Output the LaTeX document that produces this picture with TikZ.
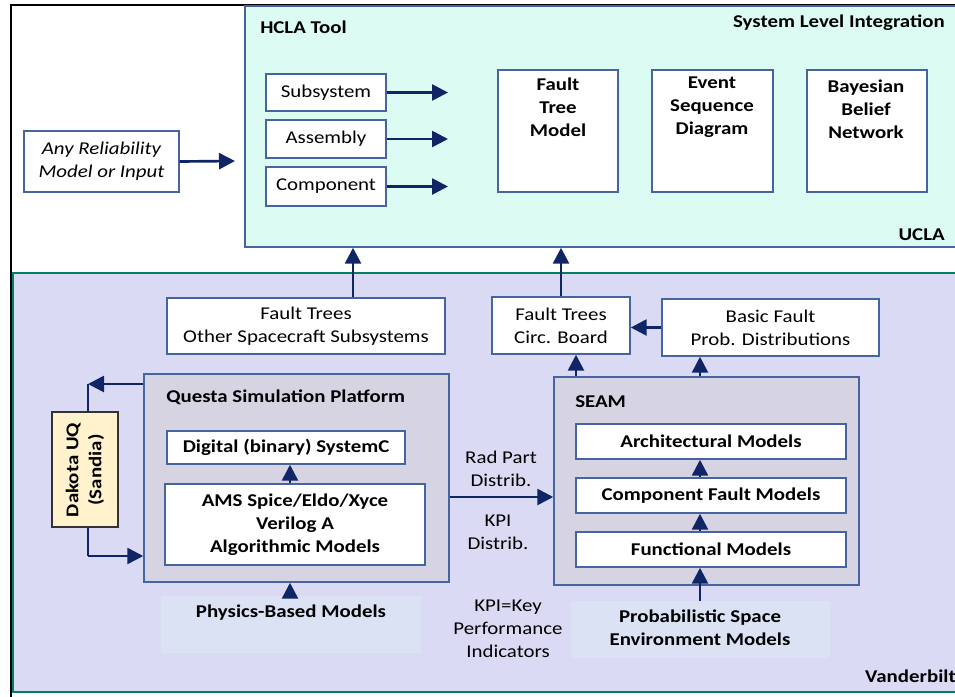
\documentclass[tikz,border=0pt]{standalone}
\usepackage{fontspec}
\setmainfont{Carlito}[FakeStretch=1.16]
\usetikzlibrary{arrows.meta}
\definecolor{navy}{RGB}{16,37,102}
\definecolor{bord}{RGB}{70,100,160}
\definecolor{mint}{RGB}{220,252,243}
\definecolor{lav}{RGB}{218,218,244}
\definecolor{grayb}{RGB}{214,212,226}
\definecolor{lblue}{RGB}{218,226,244}
\definecolor{dak}{RGB}{255,242,204}
\definecolor{grn}{RGB}{0,128,96}
\newcommand\pbox[7]{\node[#1,minimum width={(#5-#3)*0.75pt},minimum height={(#6-#4)*0.75pt}] (#2) at ({(#3+#5)/2},{(#4+#6)/2}) {#7};}
\tikzset{
  wbox/.style={draw=bord,fill=white,line width=1.1pt,inner sep=0pt,align=center},
  gbox/.style={draw=bord,fill=grayb,line width=1.1pt,inner sep=0pt},
  lbox/.style={fill=lblue,inner sep=0pt},
  dbox/.style={draw=black!80,fill=dak,line width=1.1pt,inner sep=0pt},
  arr/.style={draw=navy,line width=2pt,-{Triangle[length=12pt,width=12pt]}},
  ln/.style={draw=navy,line width=2pt},
  txt/.style={inner sep=0pt,align=center},
  bt/.style={inner sep=0pt,align=center,font=\fontsize{13.5}{17.2}\selectfont\bfseries},
}
\begin{document}
\begin{tikzpicture}[x=0.75pt,y=-0.75pt,font=\fontsize{13.5}{17.2}\selectfont]
\useasboundingbox (0,0) rectangle (955,696);
% outer frames
\draw[line width=2pt,fill=white] (11,5) rectangle (980,720);
\draw[draw=grn,fill=lav,line width=2pt] (13,273) rectangle (980,692);
\node[draw=bord,fill=mint,line width=1.1pt,inner sep=0pt,minimum width={735*0.75pt},minimum height={241*0.75pt}] (hcla) at ({(245+980)/2},{(6+247)/2}) {};
% titles
\node[bt,anchor=west] (thcla) at (260,27) {HCLA Tool};
\node[bt,anchor=east] (tsli) at (945,23) {System Level Integration};
\node[bt,anchor=east] (tucla) at (945,235) {UCLA};
\node[bt,anchor=east] (tvan) at (956,676) {Vanderbilt};
% HCLA content
\pbox{wbox}{sub}{266}{74}{386}{111}{Subsystem}
\pbox{wbox}{asm}{266}{120}{386}{158}{Assembly}
\pbox{wbox}{cmp}{266}{167}{386}{206}{Component}
\pbox{wbox}{anyrel}{24}{131}{179}{192}{\itshape Any Reliability\\\itshape Model or Input}
\pbox{wbox}{ftm}{498}{70}{618}{192}{}
\pbox{wbox}{esd}{652}{70}{773}{192}{}
\pbox{wbox}{bbn}{807}{70}{927}{192}{}
\node[bt] (tftm) at (558,107) {Fault\\Tree\\Model};
\node[bt] (tesd) at (712,107) {Event\\Sequence\\Diagram};
\node[bt] (tbbn) at (866,109) {Bayesian\\Belief\\Network};
\coordinate (ex) at (448,0);
\coordinate (e4) at (235,161);
\draw[arr] (sub.east) -- (sub.east -| ex);
\draw[arr] (asm.east) -- (asm.east -| ex);
\draw[arr] (cmp.east) -- (cmp.east -| ex);
\draw[arr] (anyrel.east) -- (e4);
% lower part
\pbox{wbox}{fto}{167}{298}{445}{354}{Fault Trees\\Other Spacecraft Subsystems}
\pbox{gbox}{questa}{144}{374}{449}{582}{}
\node[bt,anchor=west] (tq) at (166,397) {Questa Simulation Platform};
\pbox{wbox}{dig}{167}{431}{405}{464}{\bfseries Digital (binary) SystemC}
\pbox{wbox}{ams}{165}{484}{425}{565}{\bfseries AMS Spice/Eldo/Xyce\\\bfseries Verilog A\\\bfseries Algorithmic Models}
\pbox{lbox}{phys}{161}{596}{421}{653}{}
\node[bt] (tphys) at (291,613) {Physics-Based Models};
\pbox{dbox}{dakota}{52}{412}{118}{527}{}
\node[bt,rotate=90] (tdak) at (85,470) {Dakota UQ\\(Sandia)};
\pbox{wbox}{ftc}{492}{297}{630}{354}{Fault Trees\\Circ. Board}
\pbox{wbox}{bfp}{662}{299}{879}{356}{Basic Fault\\Prob. Distributions}
\pbox{gbox}{seam}{554}{377}{859}{585}{}
\node[bt,anchor=west] (tseam) at (575,402) {SEAM};
\pbox{wbox}{arch}{576}{424}{846}{459}{\bfseries Architectural Models}
\pbox{wbox}{cfm}{576}{478}{846}{513}{\bfseries Component Fault Models}
\pbox{wbox}{fun}{576}{532}{846}{567}{\bfseries Functional Models}
\pbox{lbox}{prob}{571}{601}{830}{658}{}
\node[bt] (tprob) at (700,628) {Probabilistic Space\\Environment Models};
\node[txt] (trad) at (501,469) {Rad Part\\Distrib.};
\node[txt] (tkpi) at (498,532) {KPI\\Distrib.};
\node[txt] (tkey) at (508,629) {KPI=Key\\Performance\\Indicators};
% connectors
\coordinate (c353) at (353,0);
\coordinate (c561) at (561,0);
\coordinate (c576) at (576,0);
\coordinate (c700) at (700,0);
\coordinate (c290) at (290,0);
\coordinate (y497) at (0,497);
\coordinate (y384) at (0,384);
\coordinate (y556) at (0,556);
\coordinate (dk) at (88,384);
\coordinate (dk2) at (88,556);
\draw[arr] (fto.north -| c353) -- (hcla.south -| c353);
\draw[arr] (ftc.north -| c561) -- (hcla.south -| c561);
\draw[arr] (bfp.west) -- (ftc.east |- bfp.west);
\draw[arr] (seam.north -| c576) -- (ftc.south -| c576);
\draw[arr] (seam.north -| c700) -- (bfp.south -| c700);
\draw[arr] (cfm.north -| c700) -- (arch.south -| c700);
\draw[arr] (fun.north -| c700) -- (cfm.south -| c700);
\draw[arr] (prob.north -| c700) -- (fun.south -| c700);
\draw[arr] (ams.north -| c290) -- (dig.south -| c290);
\draw[arr] (phys.north -| c290) -- (questa.south -| c290);
\draw[arr] (questa.east |- y497) -- (seam.west |- y497);
\draw[arr] (questa.west |- y384) -- (dk);
\draw[ln] (dk) -- (dakota.north -| dk);
\draw[ln] (dakota.south -| dk2) -- (dk2);
\draw[arr] (dk2) -- (questa.west |- y556);
\end{tikzpicture}
\end{document}
